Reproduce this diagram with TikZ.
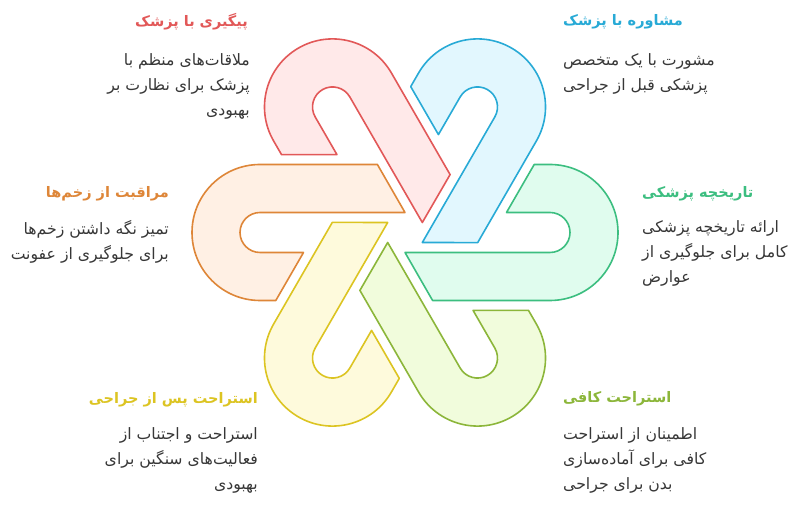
\documentclass[tikz,border=0pt]{standalone}
\usepackage{fontspec}
\usepackage{tikz}
\usetikzlibrary{positioning}
\TeXXeTstate=1
\newfontfamily\fafont[Script=Arabic]{DejaVu Sans}
\newcommand{\rline}[1]{\beginR#1\endR}
\definecolor{hred}{RGB}{226,88,88}
\definecolor{hredF}{RGB}{255,233,233}
\definecolor{hblue}{RGB}{40,170,214}
\definecolor{hblueF}{RGB}{226,247,254}
\definecolor{hgreen}{RGB}{60,190,128}
\definecolor{hgreenF}{RGB}{224,252,238}
\definecolor{hlime}{RGB}{140,182,58}
\definecolor{hlimeF}{RGB}{241,252,220}
\definecolor{hyellow}{RGB}{220,196,34}
\definecolor{hyellowF}{RGB}{254,250,220}
\definecolor{horange}{RGB}{222,134,56}
\definecolor{horangeF}{RGB}{255,240,228}
\definecolor{txtgray}{RGB}{55,55,55}
\tikzset{hook/.style = {line width=1.6pt, line join=round},
         title/.style = {inner sep=0pt, font=\fafont\bfseries\fontsize{14.5}{17}\selectfont},
         body/.style = {inner sep=0pt, text=txtgray, font=\fafont\fontsize{15.7}{25}\selectfont}}

\begin{document}
\begin{tikzpicture}[x=1pt, y=1pt]
    \useasboundingbox (0, 0) rectangle (806, 508);
    \fill [white] (0, 0) rectangle (806, 508);

    % the six hooks, turned round the middle
    \foreach \ang/\col/\fcol in {120/hred/hredF, 60/hblue/hblueF, 0/hgreen/hgreenF,
                                 -60/hlime/hlimeF, -120/hyellow/hyellowF, 180/horange/horangeF} {
      \begin{scope}[shift={(405, 275.5)}, rotate=\ang+180]
        \draw [hook, draw=\col, fill=\fcol] (-145, 68) -- (-27.6, 68) -- (0, 20) -- (-145, 20)
          arc [start angle=90, end angle=270, radius=20] -- (-101.5, -20) -- (-129.2, -68)
          -- (-145, -68) arc [start angle=270, end angle=90, radius=68] -- cycle;
      \end{scope}
    }

    % texts on the left
    \node [title, text=hred, anchor=east] (redtitle) at (248, 486) {\rline{پیگیری با پزشک}};
    \node [body, align=right, anchor=north east] (redbody) at (250, 455)
      {\rline{ملاقات‌های منظم با}\\ \rline{پزشک برای نظارت بر}\\ \rline{بهبودی}};

    \node [title, text=horange, anchor=east] (orangetitle) at (169, 314) {\rline{مراقبت از زخم‌ها}};
    \node [body, align=right, anchor=north east] (orangebody) at (169, 288)
      {\rline{تمیز نگه داشتن زخم‌ها}\\ \rline{برای جلوگیری از عفونت}};

    \node [title, text=hyellow, anchor=east] (yellowtitle) at (258, 108) {\rline{استراحت پس از جراحی}};
    \node [body, align=right, anchor=north east] (yellowbody) at (258, 81)
      {\rline{استراحت و اجتناب از}\\ \rline{فعالیت‌های سنگین برای}\\ \rline{بهبودی}};

    % texts on the right
    \node [title, text=hblue, anchor=west] (bluetitle) at (563, 486) {\rline{مشاوره با پزشک}};
    \node [body, align=left, anchor=north west] (bluebody) at (563, 455)
      {\rline{مشورت با یک متخصص}\\ \rline{پزشکی قبل از جراحی}};

    \node [title, text=hgreen, anchor=west] (greentitle) at (642, 314) {\rline{تاریخچه پزشکی}};
    \node [body, align=left, anchor=north west] (greenbody) at (642, 288)
      {\rline{ارائه تاریخچه پزشکی}\\ \rline{کامل برای جلوگیری از}\\ \rline{عوارض}};

    \node [title, text=hlime, anchor=west] (limetitle) at (563, 109) {\rline{استراحت کافی}};
    \node [body, align=left, anchor=north west] (limebody) at (563, 81)
      {\rline{اطمینان از استراحت}\\ \rline{کافی برای آماده‌سازی}\\ \rline{بدن برای جراحی}};
\end{tikzpicture}
\end{document}
